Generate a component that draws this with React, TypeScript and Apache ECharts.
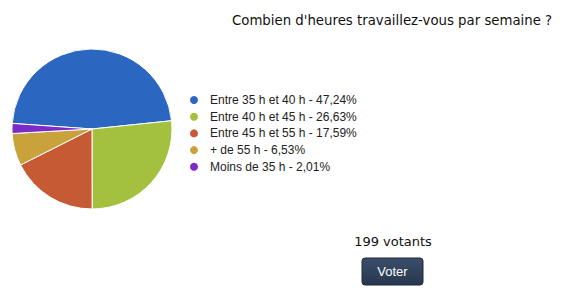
import React, { useEffect, useRef } from "react";
import * as echarts from "echarts";

const categories = [
  "Entre 35 h et 40 h",
  "Entre 40 h et 45 h",
  "Entre 45 h et 55 h",
  "+ de 55 h",
  "Moins de 35 h",
];
const percents = [47.24, 26.63, 17.59, 6.53, 2.01];
const colors = ["#2b67c1", "#a3c13f", "#c55a35", "#c9a23c", "#7b2bc6"];
const titleText = "Combien d'heures travaillez-vous par semaine ?";
const votersText = "199 votants";
const buttonText = "Voter";

export default function App() {
  const ref = useRef<HTMLDivElement>(null);
  useEffect(() => {
    if (!ref.current) return;
    const chart = echarts.init(ref.current, undefined, { renderer: "svg" });
    const fmt = (v: number) => v.toFixed(2).replace(".", ",") + "%";
    const labelMap: Record<string, string> = {};
    categories.forEach((c, i) => (labelMap[c] = `${c} - ${fmt(percents[i])}`));
    chart.setOption({
      animation: false,
      backgroundColor: "#ffffff",
      title: {
        text: titleText,
        left: 227,
        top: 9,
        textStyle: {
          fontFamily: "DejaVu Sans",
          fontSize: 13.3,
          fontWeight: "normal",
          color: "#111111",
        },
      },
      legend: {
        orient: "vertical",
        left: 183,
        top: 89,
        icon: "circle",
        itemWidth: 10,
        itemHeight: 10,
        itemGap: 4.7,
        selectedMode: false,
        data: categories,
        formatter: (name: string) => labelMap[name],
        textStyle: {
          fontFamily: "Liberation Sans, Arial, sans-serif",
          fontSize: 12,
          lineHeight: 12,
          color: "#222222",
          padding: [0, 0, 0, 6],
        },
      },
      series: [
        {
          type: "pie",
          center: [92, 129],
          radius: 80,
          startAngle: 176,
          clockwise: true,
          label: { show: false },
          labelLine: { show: false },
          itemStyle: { borderColor: "#ffffff", borderWidth: 1 },
          emphasis: { disabled: true },
          data: categories.map((c, i) => ({
            name: c,
            value: percents[i],
            itemStyle: { color: colors[i] },
          })),
        },
      ],
      graphic: [
        {
          type: "text",
          x: 393,
          y: 241,
          style: {
            text: votersText,
            fontFamily: "DejaVu Sans",
            fontSize: 13,
            fill: "#111111",
            align: "center",
            verticalAlign: "middle",
          },
        },
        {
          type: "rect",
          shape: { x: 362, y: 258, width: 61, height: 27, r: 3 },
          style: {
            fill: new echarts.graphic.LinearGradient(0, 0, 0, 1, [
              { offset: 0, color: "#3b4e6a" },
              { offset: 1, color: "#27364d" },
            ]),
            stroke: "#1f2b3d",
            lineWidth: 1,
          },
        },
        {
          type: "text",
          x: 392.5,
          y: 271.5,
          style: {
            text: buttonText,
            fontFamily: "Liberation Sans, Arial, sans-serif",
            fontSize: 13,
            fill: "#ffffff",
            align: "center",
            verticalAlign: "middle",
          },
        },
      ],
    });
    return () => chart.dispose();
  }, []);
  return (
    <div
      ref={ref}
      style={{ position: "absolute", left: 0, top: 0, width: 565, height: 300 }}
    />
  );
}
